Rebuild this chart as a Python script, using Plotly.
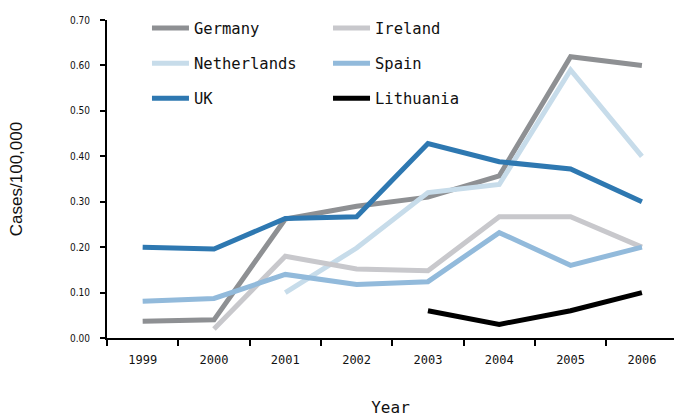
import plotly.graph_objects as go

years = ["1999", "2000", "2001", "2002", "2003", "2004", "2005", "2006"]
germany = [0.037, 0.040, 0.262, 0.290, 0.310, 0.357, 0.619, 0.600]
netherlands = [None, None, 0.100, 0.198, 0.320, 0.338, 0.590, 0.400]
uk = [0.200, 0.196, 0.263, 0.267, 0.428, 0.388, 0.372, 0.300]
ireland = [None, 0.020, 0.180, 0.152, 0.148, 0.267, 0.267, 0.200]
spain = [0.081, 0.087, 0.140, 0.118, 0.124, 0.232, 0.160, 0.200]
lithuania = [None, None, None, None, 0.060, 0.030, 0.060, 0.100]

series = [
    ("Germany", germany, "#8e9093", "legend"),
    ("Netherlands", netherlands, "#c7dcea", "legend"),
    ("UK", uk, "#2e78b1", "legend"),
    ("Ireland", ireland, "#c8c8cc", "legend2"),
    ("Spain", spain, "#92badb", "legend2"),
    ("Lithuania", lithuania, "#000000", "legend2"),
]

mono = "DejaVu Sans Mono"
fig = go.Figure()
for name, vals, color, leg in series:
    fig.add_trace(go.Scatter(
        x=years, y=vals, name=name, mode="lines",
        line=dict(color=color, width=5),
        legend=leg, legendgroup=name,
    ))

legend_common = dict(
    font=dict(family=mono, size=15.5, color="#111111"),
    bgcolor="rgba(0,0,0,0)", tracegroupgap=12, traceorder="grouped",
    xanchor="left", yanchor="top", itemwidth=37,
)
fig.update_layout(
    width=674, height=417,
    margin=dict(l=107, r=0, t=20, b=79, autoexpand=False),
    paper_bgcolor="white", plot_bgcolor="white",
    legend=dict(x=0.0705, y=1.027, **legend_common),
    legend2=dict(x=0.3898, y=1.027, **legend_common),
    xaxis=dict(
        type="category", range=[-0.5, 7.45], automargin=False,
        showline=True, linecolor="black", linewidth=2,
        ticks="outside", tickson="boundaries", ticklen=6, tickcolor="black", tickwidth=1.5,
        showgrid=False, zeroline=False,
        tickfont=dict(family=mono, size=12, color="#111111"),
        ticklabelstandoff=10,
        title=dict(text="Year", font=dict(family=mono, size=16, color="#111111"), standoff=41),
    ),
    yaxis=dict(
        range=[0, 0.7], dtick=0.1, tickformat=".2f", automargin=False,
        showline=True, linecolor="black", linewidth=2,
        ticks="outside", ticklen=5, tickcolor="black", tickwidth=1.5,
        showgrid=False, zeroline=False,
        tickfont=dict(family="DejaVu Sans Condensed", size=10, color="#111111"),
        ticklabelstandoff=8,
        title=dict(text="Cases/100,000", font=dict(family="Liberation Sans", size=17, color="#111111"), standoff=43),
    ),
)

fig.write_html("out.html", config={"displayModeBar": False},
               post_script="document.body.style.margin='0';")
